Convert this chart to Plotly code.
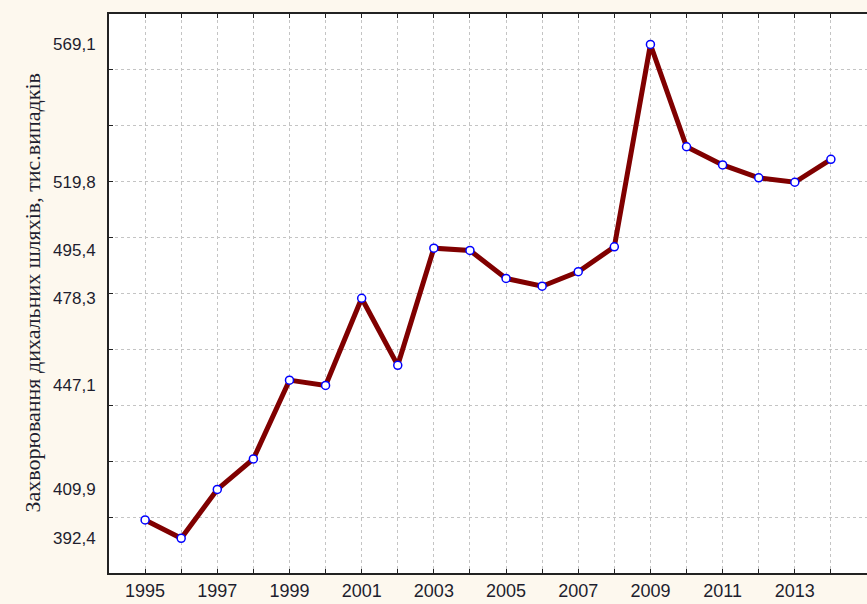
import plotly.graph_objects as go

# Data
years = list(range(1995, 2015))
cases = [399.0, 392.4, 409.9, 420.8, 449.0, 447.1, 478.3, 454.3, 496.2, 495.4,
         485.4, 482.6, 487.8, 496.7, 569.1, 532.5, 526.0, 521.4, 519.8, 528.0]

y_label_vals = [392.4, 409.9, 447.1, 478.3, 495.4, 519.8, 569.1]
y_label_text = [f"{v:.1f}".replace(".", ",") for v in y_label_vals]
y_grid_vals = list(range(400, 561, 20))
x_label_text = [str(y) if y % 2 == 1 else "" for y in years]

PAPER = "#FDF8EE"
TEXT = "#1e1e2e"

fig = go.Figure()

fig.add_trace(go.Scatter(
    x=years,
    y=cases,
    mode="lines+markers",
    line=dict(color="#800000", width=5),
    marker=dict(symbol="circle", size=8, color="white",
                line=dict(color="#0000FF", width=1.5)),
    showlegend=False,
))

fig.update_layout(
    width=867,
    height=604,
    margin=dict(l=109, r=0, t=14, b=31),
    paper_bgcolor=PAPER,
    plot_bgcolor="white",
    font=dict(family="Liberation Sans, Arial", size=13, color=TEXT),
    xaxis=dict(
        range=[1994, 2015],
        tickvals=years,
        ticktext=x_label_text,
        ticks="inside",
        ticklen=4,
        tickcolor="#222222",
        showline=True,
        linecolor="#222222",
        linewidth=2,
        mirror="allticks",
        showgrid=True,
        gridcolor="#c4c4c4",
        griddash="dot",
        gridwidth=1,
        zeroline=False,
        automargin=False,
        tickfont=dict(size=18, color=TEXT),
        ticklabelstandoff=0,
    ),
    yaxis=dict(
        range=[380, 580],
        tickvals=y_label_vals,
        ticktext=y_label_text,
        ticks="",
        showgrid=False,
        showline=True,
        linecolor="#222222",
        linewidth=2,
        mirror=True,
        zeroline=False,
        automargin=False,
        tickfont=dict(size=17, color=TEXT),
        ticklabelstandoff=8,
        minor=dict(
            tickvals=y_grid_vals,
            ticks="inside",
            ticklen=4,
            tickcolor="#222222",
            showgrid=True,
            gridcolor="#c4c4c4",
            griddash="dot",
            gridwidth=1,
        ),
    ),
)

fig.add_annotation(
    text="Захворювання дихальних шляхів, тис.випадків",
    xref="paper", yref="paper",
    x=-(109 - 32) / 758, y=0.5,
    xanchor="center", yanchor="middle",
    textangle=-90,
    showarrow=False,
    font=dict(family="Liberation Serif, Times New Roman", size=22, color=TEXT),
)

# the page's default body margin would shift the figure by 8px
fig.write_html("out.html",
               config={"displayModeBar": False},
               post_script="document.body.style.margin='0';"
                           "document.body.style.overflow='hidden';")
